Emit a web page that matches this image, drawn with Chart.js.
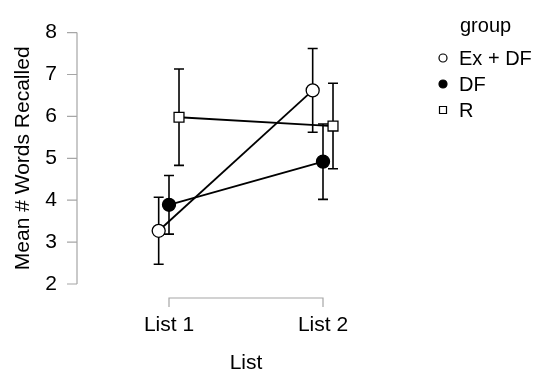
<!DOCTYPE html>
<html>
<head>
<meta charset="utf-8">
<script src="https://cdn.jsdelivr.net/npm/chart.js@4.4.0/dist/chart.umd.min.js"></script>
<style>
  html, body { margin: 0; padding: 0; background: #fff; }
  #wrap { width: 536px; height: 371px; }
</style>
</head>
<body>
<div id="wrap"><canvas id="myChart" width="536" height="371"></canvas></div>
<script>
// data
const categories = ['List 1', 'List 2'];
const groups = ['Ex + DF', 'DF', 'R'];
const exdf_mean = [3.27, 6.62];
const exdf_err = [0.80, 1.00];
const df_mean = [3.89, 4.92];
const df_err = [0.70, 0.90];
const r_mean = [5.98, 5.77];
const r_err = [1.15, 1.02];
const y_ticks = [2, 3, 4, 5, 6, 7, 8];

const FONT = 'Liberation Sans, Arial, sans-serif';
const dodge = [-0.067, 0, 0.065];
const AXIS_GRAY = '#a6a6a6';

function makePoints(means, k){
  let pts = [];
  for(let i=0; i<means.length; i++){
    pts.push({x: i + 1 + dodge[k], y: means[i]});
  }
  return pts;
}

function makeSet(label, means, errs, k, style, fill, radius){
  return {
    label: label,
    data: makePoints(means, k),
    errs: errs,
    borderColor: '#000',
    borderWidth: 1.8,
    pointStyle: style,
    pointRadius: radius,
    pointHoverRadius: radius,
    pointBackgroundColor: fill,
    pointBorderColor: '#000',
    pointBorderWidth: 1.3,
    showLine: true,
    tension: 0
  };
}

// error bars, axes lines and legend in R/JASP style
const extras = {
  id: 'extras',
  beforeDatasetsDraw(chart){
    const ctx = chart.ctx;
    const xs = chart.scales.x, ys = chart.scales.y;
    ctx.save();
    ctx.strokeStyle = '#000';
    ctx.lineWidth = 1.6;
    chart.data.datasets.forEach(function(ds){
      ds.data.forEach(function(p, i){
        let px = xs.getPixelForValue(p.x);
        let top = ys.getPixelForValue(p.y + ds.errs[i]);
        let bot = ys.getPixelForValue(p.y - ds.errs[i]);
        ctx.beginPath();
        ctx.moveTo(px, top); ctx.lineTo(px, bot);
        ctx.moveTo(px - 5, top); ctx.lineTo(px + 5, top);
        ctx.moveTo(px - 5, bot); ctx.lineTo(px + 5, bot);
        ctx.stroke();
      });
    });
    ctx.restore();
  },
  afterDraw(chart){
    const ctx = chart.ctx;
    const xs = chart.scales.x, ys = chart.scales.y;
    const area = chart.chartArea;
    ctx.save();
    ctx.strokeStyle = AXIS_GRAY;
    ctx.lineWidth = 1.2;
    // y axis
    let ax = area.left;
    ctx.beginPath();
    ctx.moveTo(ax, ys.getPixelForValue(y_ticks[0]));
    ctx.lineTo(ax, ys.getPixelForValue(y_ticks[y_ticks.length-1]));
    y_ticks.forEach(function(t){
      let py = ys.getPixelForValue(t);
      ctx.moveTo(ax - 10, py); ctx.lineTo(ax, py);
    });
    ctx.stroke();
    // x axis bracket
    let ay = area.bottom + 14;
    let x1 = xs.getPixelForValue(1), x2 = xs.getPixelForValue(categories.length);
    ctx.beginPath();
    ctx.moveTo(x1, ay + 9); ctx.lineTo(x1, ay); ctx.lineTo(x2, ay); ctx.lineTo(x2, ay + 9);
    ctx.stroke();

    // legend
    ctx.fillStyle = '#000';
    ctx.font = '20px ' + FONT;
    ctx.textBaseline = 'middle';
    ctx.textAlign = 'left';
    ctx.fillText('group', 460, 26);
    const rows = [58, 84, 110];
    chart.data.datasets.forEach(function(ds, k){
      let y = rows[k];
      ctx.fillStyle = '#000';
      ctx.fillText(ds.label, 459, y + 1);
      ctx.lineWidth = 1.2;
      ctx.strokeStyle = '#000';
      ctx.beginPath();
      if(ds.pointStyle === 'rect'){
        ctx.rect(439.5, y - 3.5, 7, 7);
      }else{
        ctx.arc(443, y, 4, 0, Math.PI * 2);
      }
      ctx.fillStyle = ds.pointBackgroundColor;
      ctx.fill();
      ctx.stroke();
    });
    ctx.restore();
  }
};

const ctx = document.getElementById('myChart');

new Chart(ctx, {
  type: 'scatter',
  data: {
    datasets: [
      makeSet(groups[0], exdf_mean, exdf_err, 0, 'circle', '#fff', 6.5),
      makeSet(groups[1], df_mean, df_err, 1, 'circle', '#000', 6.5),
      makeSet(groups[2], r_mean, r_err, 2, 'rect', '#fff', 7)
    ]
  },
  options: {
    responsive: false,
    animation: false,
    layout: { padding: { top: 20, right: 121, left: 0, bottom: 0 } },
    plugins: {
      legend: { display: false },
      tooltip: { enabled: false }
    },
    scales: {
      x: {
        type: 'linear',
        min: 1 - 92/154,
        max: 1 + 246/154,
        grid: { display: false, drawTicks: false },
        border: { display: false },
        afterBuildTicks: function(scale){
          scale.ticks = categories.map(function(c, i){ return {value: i + 1}; });
        },
        afterFit: function(scale){ scale.height = 371 - 284; },
        ticks: {
          color: '#000',
          padding: 29,
          font: { family: FONT, size: 21 },
          callback: function(v){ return categories[Math.round(v) - 1]; }
        },
        title: {
          display: true,
          text: 'List',
          color: '#000',
          padding: 0,
          font: { family: FONT, size: 21, lineHeight: 0.75 }
        }
      },
      y: {
        min: 2,
        max: 8,
        grid: { display: false, drawTicks: false },
        border: { display: false },
        afterBuildTicks: function(scale){
          scale.ticks = y_ticks.map(function(v){ return {value: v}; });
        },
        afterFit: function(scale){ scale.width = 77; },
        ticks: {
          color: '#000',
          padding: 20,
          font: { family: FONT, size: 21 }
        },
        title: {
          display: true,
          text: 'Mean # Words Recalled',
          color: '#000',
          padding: { top: 13, bottom: 0 },
          font: { family: FONT, size: 21, lineHeight: 1 }
        }
      }
    }
  },
  plugins: [extras]
});
</script>
</body>
</html>
